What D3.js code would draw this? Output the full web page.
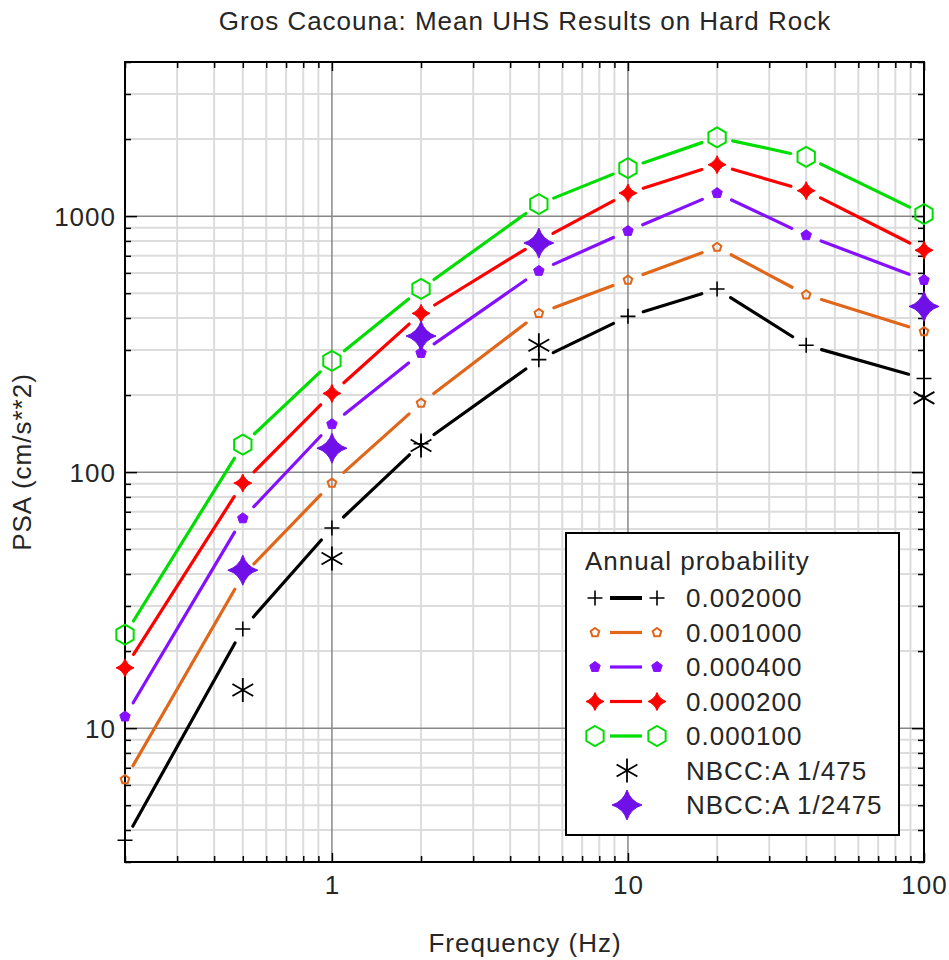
<!DOCTYPE html>
<html><head><meta charset="utf-8">
<script src="https://cdn.jsdelivr.net/npm/d3@7"></script>
<style>body{margin:0;background:#fff}svg{display:block}text{font-family:"Liberation Sans",Arial,sans-serif;fill:#262626;letter-spacing:1px}</style>
</head><body><svg id="c" width="949" height="960"></svg>
<script>
const freqs = [0.2, 0.5, 1, 2, 5, 10, 20, 40, 100];
const p002000 = [3.65, 24.4, 60.5, 129, 275, 406, 519, 313, 232];
const p001000 = [6.3, 39.5, 90.6, 186, 417, 563, 756, 493, 354];
const p000400 = [11.1, 66, 154, 292, 611, 875, 1230, 842, 563];
const p000200 = [17.2, 90.6, 203, 417, 800, 1230, 1588, 1257, 736];
const p000100 = [23.2, 128, 272, 520, 1114, 1540, 2030, 1704, 1018];
const nbccFreqs = [0.5, 1, 2, 5, 100];
const nbcc475 = [14.1, 46, 127, 313, 195];
const nbcc2475 = [41.4, 124, 340, 785, 444];
const seriesNames = ["0.002000", "0.001000", "0.000400", "0.000200", "0.000100"];
const xTickLabels = ["1", "10", "100"];
const yTickLabels = ["10", "100", "1000"];
const title = "Gros Cacouna: Mean UHS Results on Hard Rock";
const xTitle = "Frequency (Hz)";
const yTitle = "PSA (cm/s**2)";
const legendTitle = "Annual probability";
const nbccNames = ["NBCC:A 1/475", "NBCC:A 1/2475"];

const svg = d3.select("#c");
const x = d3.scaleLog().domain([0.2, 100]).range([125, 924]);
const y = d3.scaleLog().domain([3, 4000]).range([862, 62]);
const L = 125, R = 924, T = 62, B = 862;

const xMinor = [], yMinor = [];
for (let d = 0.1; d <= 100; d *= 10) for (let k = 1; k < 10; k++) { const v = +(d * k).toPrecision(3); if (v >= 0.2 && v <= 100) xMinor.push(v); }
for (let d = 1; d <= 1000; d *= 10) for (let k = 1; k < 10; k++) { const v = d * k; if (v >= 3 && v <= 4000) yMinor.push(v); }
const xMajor = xTickLabels.map(Number), yMajor = yTickLabels.map(Number);

const grid = svg.append("g");
grid.selectAll(".gx").data(xMinor.filter(v => !xMajor.includes(v))).join("line")
  .attr("x1", d => x(d)).attr("x2", d => x(d)).attr("y1", T).attr("y2", B)
  .attr("stroke", "#dcdcdc").attr("stroke-width", 2);
grid.selectAll(".gy").data(yMinor.filter(v => !yMajor.includes(v))).join("line")
  .attr("y1", d => y(d)).attr("y2", d => y(d)).attr("x1", L).attr("x2", R)
  .attr("stroke", "#dcdcdc").attr("stroke-width", 2);
grid.selectAll(".gX").data(xMajor).join("line")
  .attr("x1", d => x(d)).attr("x2", d => x(d)).attr("y1", T).attr("y2", B)
  .attr("stroke", "#888").attr("stroke-width", 1.5);
grid.selectAll(".gY").data(yMajor).join("line")
  .attr("y1", d => y(d)).attr("y2", d => y(d)).attr("x1", L).attr("x2", R)
  .attr("stroke", "#888").attr("stroke-width", 1.5);

const fmtX = d => xMajor.includes(d) ? String(d) : "";
const fmtY = d => yMajor.includes(d) ? String(d) : "";
function styleAxis(g) {
  g.select(".domain").remove();
  g.selectAll(".tick line").attr("stroke", "#000").attr("stroke-width", 1.5);
  g.selectAll(".tick text").attr("fill", "#262626").style("font-size", "26px").style("font-family", '"Liberation Sans",Arial,sans-serif');
}
const axB = svg.append("g").attr("transform", `translate(0,${B})`)
  .call(d3.axisBottom(x).tickValues(xMinor).tickFormat(fmtX).tickSizeInner(-6).tickSizeOuter(0).tickPadding(14));
styleAxis(axB);
axB.selectAll(".tick line").attr("y2", d => xMajor.includes(d) ? -9 : -6);
const axT = svg.append("g").attr("transform", `translate(0,${T})`)
  .call(d3.axisTop(x).tickValues(xMinor).tickFormat("").tickSizeInner(-6).tickSizeOuter(0));
styleAxis(axT);
axT.selectAll(".tick line").attr("y2", d => xMajor.includes(d) ? 9 : 6);
const axL = svg.append("g").attr("transform", `translate(${L},0)`)
  .call(d3.axisLeft(y).tickValues(yMinor).tickFormat(fmtY).tickSizeInner(-6).tickSizeOuter(0).tickPadding(9));
styleAxis(axL);
axL.selectAll(".tick line").attr("x2", d => yMajor.includes(d) ? 12 : 6);
const axR = svg.append("g").attr("transform", `translate(${R},0)`)
  .call(d3.axisRight(y).tickValues(yMinor).tickFormat("").tickSizeInner(-6).tickSizeOuter(0));
styleAxis(axR);
axR.selectAll(".tick line").attr("x2", d => yMajor.includes(d) ? -12 : -6);
axB.selectAll(".tick text").attr("dy", "0.71em");
axL.selectAll(".tick text").attr("dy", "0.36em");

svg.append("rect").attr("x", L).attr("y", T).attr("width", R - L).attr("height", B - T)
  .attr("fill", "none").attr("stroke", "#000").attr("stroke-width", 2);

function plusPath(s) { return `M${-s},0H${s}M0,${-s}V${s}`; }
function asteriskPath(s) {
  const a = s * Math.cos(Math.PI / 6), b = s * Math.sin(Math.PI / 6);
  return `M0,${-s}V${s}M${-a},${-b}L${a},${b}M${-a},${b}L${a},${-b}`;
}
function polyPath(n, r, rot) {
  let p = "";
  for (let i = 0; i < n; i++) { const t = rot + i * 2 * Math.PI / n; p += (i ? "L" : "M") + (r * Math.sin(t)).toFixed(2) + "," + (-r * Math.cos(t)).toFixed(2); }
  return p + "Z";
}
function star4Path(rx, ry, w) {
  return `M0,${-ry}Q${w * 0.4},${-w * 0.4} ${rx},0Q${w * 0.4},${w * 0.4} 0,${ry}Q${-w * 0.4},${w * 0.4} ${-rx},0Q${-w * 0.4},${-w * 0.4} 0,${-ry}Z`;
}
const series = [
  { name: seriesNames[0], vals: p002000, color: "#000000", path: plusPath(7.5), fill: "none", sw: 1.6 },
  { name: seriesNames[1], vals: p001000, color: "#e0661a", path: polyPath(5, 4.5, 0), fill: "none", sw: 2 },
  { name: seriesNames[2], vals: p000400, color: "#8410ff", path: polyPath(5, 5.5, 0), fill: "#8410ff", sw: 1 },
  { name: seriesNames[3], vals: p000200, color: "#ff0000", path: star4Path(9, 9, 6), fill: "#ff0000", sw: 1 },
  { name: seriesNames[4], vals: p000100, color: "#00dd00", path: polyPath(6, 10, 0), fill: "none", sw: 2 }
];
const gap = 16;
function segs(xs, vs, g) {
  const pts = xs.map((f, i) => [x(f), y(vs[i])]);
  const out = [];
  for (let i = 0; i < pts.length - 1; i++) {
    const [x0, y0] = pts[i], [x1, y1] = pts[i + 1];
    const dx = x1 - x0, dy = y1 - y0, len = Math.hypot(dx, dy);
    if (len <= 2 * g) continue;
    const ux = dx / len, uy = dy / len;
    out.push([x0 + ux * g, y0 + uy * g, x1 - ux * g, y1 - uy * g]);
  }
  return out;
}
const plot = svg.append("g");
series.forEach(s => {
  plot.append("g").selectAll("line").data(segs(freqs, s.vals, gap)).join("line")
    .attr("x1", d => d[0]).attr("y1", d => d[1]).attr("x2", d => d[2]).attr("y2", d => d[3])
    .attr("stroke", s.color).attr("stroke-width", 3.2).attr("stroke-linecap", "round");
});
series.forEach(s => {
  plot.append("g").selectAll("path").data(freqs.map((f, i) => [f, s.vals[i]])).join("path")
    .attr("transform", d => `translate(${x(d[0])},${y(d[1])})`)
    .attr("d", s.path).attr("fill", s.fill).attr("stroke", s.color).attr("stroke-width", s.sw);
});
const nbcc = [
  { name: nbccNames[0], vals: nbcc475, color: "#000", path: asteriskPath(12), fill: "none", sw: 1.8 },
  { name: nbccNames[1], vals: nbcc2475, color: "#7010e8", path: star4Path(15, 15, 9), fill: "#7010e8", sw: 1 }
];
nbcc.forEach(s => {
  plot.append("g").selectAll("path").data(nbccFreqs.map((f, i) => [f, s.vals[i]])).join("path")
    .attr("transform", d => `translate(${x(d[0])},${y(d[1])})`)
    .attr("d", s.path).attr("fill", s.fill).attr("stroke", s.color).attr("stroke-width", s.sw);
});

const lg = svg.append("g");
lg.append("rect").attr("x", 566).attr("y", 533).attr("width", 333).attr("height", 302)
  .attr("fill", "#fff").attr("stroke", "#000").attr("stroke-width", 2);
lg.append("text").attr("x", 585).attr("y", 570).style("font-size", "26px").text(legendTitle);
series.forEach((s, i) => {
  const cy = 598 + i * 34.5;
  lg.append("line").attr("x1", 610).attr("x2", 642).attr("y1", cy).attr("y2", cy)
    .attr("stroke", s.color).attr("stroke-width", i === 0 ? 4 : 3.2);
  [595, 657].forEach(cx => lg.append("path").attr("transform", `translate(${cx},${cy})`)
    .attr("d", s.path).attr("fill", s.fill).attr("stroke", s.color).attr("stroke-width", s.sw));
  lg.append("text").attr("x", 686).attr("y", cy).attr("dy", "0.36em").style("font-size", "26px").text(s.name);
});
nbcc.forEach((s, i) => {
  const cy = 598 + (5 + i) * 34.5;
  lg.append("path").attr("transform", `translate(627,${cy})`)
    .attr("d", s.path).attr("fill", s.fill).attr("stroke", s.color).attr("stroke-width", s.sw);
  lg.append("text").attr("x", 686).attr("y", cy).attr("dy", "0.36em").style("font-size", "26px").text(s.name);
});

svg.append("text").attr("x", 525).attr("y", 30).attr("text-anchor", "middle").style("font-size", "26px").text(title);
svg.append("text").attr("x", 525).attr("y", 952).attr("text-anchor", "middle").style("font-size", "26px").text(xTitle);
svg.append("text").attr("transform", "translate(31,462) rotate(-90)").attr("text-anchor", "middle").style("font-size", "26px").text(yTitle);
</script></body></html>
